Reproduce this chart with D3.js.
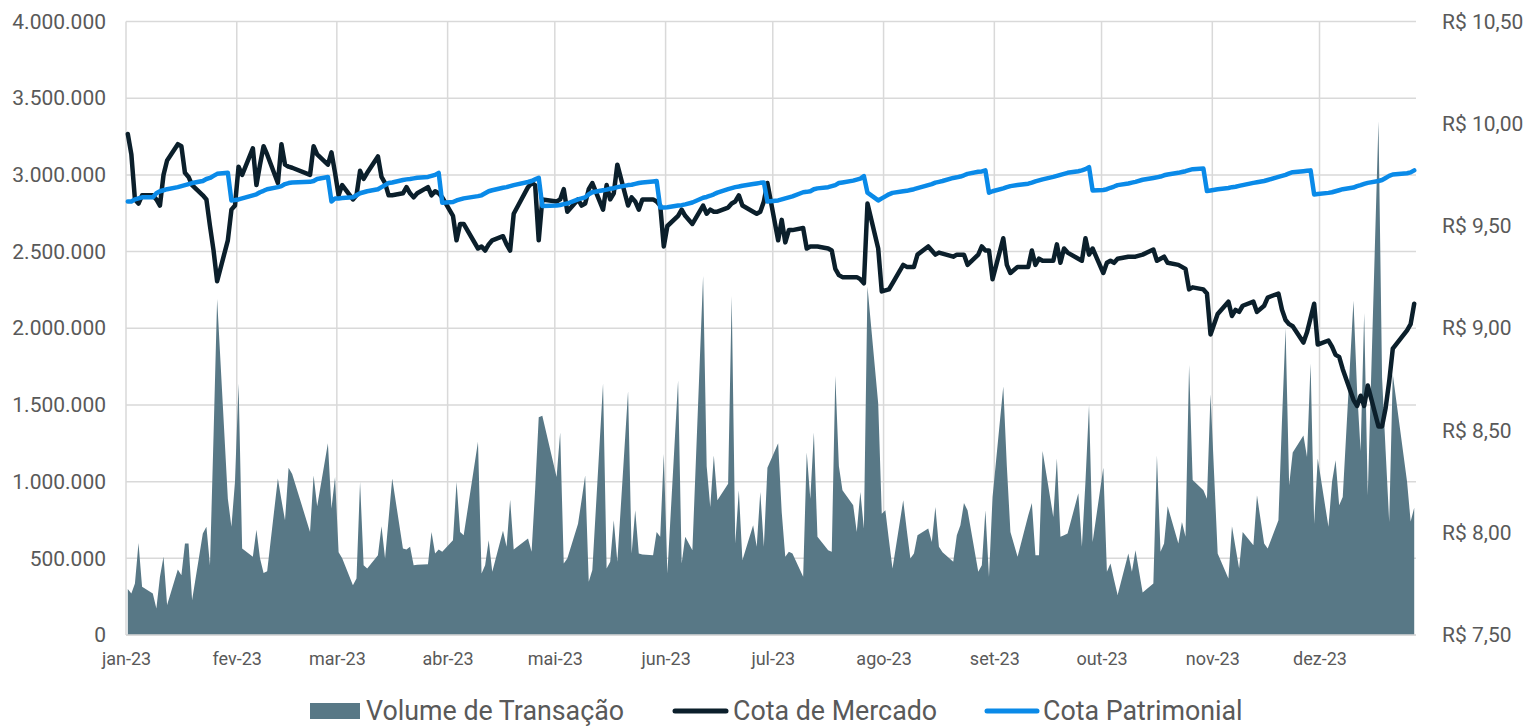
<!DOCTYPE html>
<html>
<head>
<meta charset="utf-8">
<script src="https://cdn.jsdelivr.net/npm/d3@7/dist/d3.min.js"></script>
<style>
  html, body { margin: 0; padding: 0; background: #ffffff; }
  svg { display: block; }
  text { font-family: Roboto, "Noto Sans", sans-serif; fill: #595959; }
</style>
</head>
<body>
<svg id="chart" width="1537" height="727"></svg>
<script>
// ---------- DATA ----------
const monthLabels = ["jan-23","fev-23","mar-23","abr-23","mai-23","jun-23","jul-23","ago-23","set-23","out-23","nov-23","dez-23"];
const leftTicks = [0, 500000, 1000000, 1500000, 2000000, 2500000, 3000000, 3500000, 4000000];
const rightTicks = [7.5, 8.0, 8.5, 9.0, 9.5, 10.0, 10.5];
const seriesNames = ["Volume de Transação", "Cota de Mercado", "Cota Patrimonial"];
// B3 holidays (non-trading weekdays) used to build the trading-day categories
const holidays = ["2023-02-20","2023-02-21","2023-04-07","2023-04-21","2023-05-01","2023-06-08",
                  "2023-09-07","2023-10-12","2023-11-02","2023-11-15","2023-12-25"];
const firstDay = "2023-01-02", lastDay = "2023-12-28";

const volume = [
  300000,270000,336000,600000,314000,270000,173000,380000,510000,195000,427000,390000,596000,596000,228000,661000,705000,455000,1300000,2190000,889000,705000,
  1000000,1640000,564000,510000,687000,500000,405000,416000,1020000,880000,748000,1090000,1050000,672000,1040000,839000,1250000,824000,
  1030000,540000,500000,325000,369000,997000,455000,434000,520000,709000,499000,760000,1020000,564000,557000,575000,455000,458000,462000,672000,531000,557000,542000,
  618000,997000,672000,650000,1260000,401000,455000,618000,412000,679000,575000,882000,557000,629000,542000,950000,1420000,1430000,
  1030000,1320000,466000,499000,726000,880000,1040000,347000,423000,1640000,434000,477000,748000,477000,1590000,531000,813000,531000,525000,520000,672000,640000,
  1180000,401000,1660000,466000,640000,553000,2340000,1100000,835000,1170000,878000,986000,2210000,596000,943000,488000,715000,575000,932000,575000,1090000,
  1250000,800000,510000,542000,531000,379000,1190000,889000,1320000,640000,553000,542000,1690000,1100000,943000,846000,672000,932000,694000,2270000,1510000,
  791000,813000,620000,434000,878000,683000,499000,531000,650000,694000,607000,835000,575000,540000,477000,650000,715000,861000,813000,412000,455000,813000,379000,
  900000,1620000,1100000,672000,510000,780000,861000,520000,520000,1200000,770000,1150000,640000,650000,661000,925000,575000,1000000,1500000,607000,
  1090000,412000,466000,360000,260000,531000,412000,553000,277000,336000,1170000,542000,596000,839000,596000,737000,640000,1760000,1010000,943000,889000,
  1570000,531000,369000,709000,570000,434000,672000,585000,911000,596000,564000,748000,1400000,2000000,976000,1190000,1300000,1160000,1770000,726000,
  1150000,705000,1000000,1140000,846000,900000,2180000,1600000,1200000,2100000,911000,3350000,1680000,1200000,737000,1700000,1000000,740000,830000
];

const cotaMercado = [
  9.95,9.85,9.63,9.61,9.65,9.65,9.63,9.60,9.75,9.82,9.90,9.89,9.76,9.74,9.70,9.65,9.63,9.50,9.38,9.23,9.43,9.58,
  9.60,9.79,9.75,9.88,9.70,9.80,9.89,9.85,9.71,9.90,9.80,9.79,9.785,9.75,9.89,9.85,9.80,9.86,
  9.76,9.65,9.70,9.63,9.65,9.77,9.73,9.76,9.84,9.74,9.71,9.65,9.65,9.66,9.69,9.66,9.64,9.66,9.69,9.65,9.67,9.66,9.64,
  9.55,9.43,9.51,9.51,9.39,9.40,9.38,9.41,9.43,9.45,9.41,9.38,9.56,9.69,9.71,9.70,9.43,9.63,
  9.62,9.63,9.68,9.57,9.63,9.60,9.61,9.68,9.71,9.58,9.70,9.63,9.66,9.80,9.60,9.64,9.62,9.58,9.63,9.63,9.62,9.60,
  9.40,9.50,9.55,9.58,9.55,9.51,9.60,9.56,9.58,9.57,9.57,9.59,9.61,9.62,9.65,9.60,9.57,9.56,9.57,9.62,9.71,
  9.43,9.53,9.42,9.48,9.48,9.49,9.39,9.40,9.40,9.40,9.39,9.38,9.29,9.26,9.25,9.25,9.25,9.24,9.22,9.61,9.39,
  9.18,9.185,9.19,9.22,9.31,9.30,9.30,9.30,9.36,9.40,9.38,9.36,9.37,9.365,9.35,9.36,9.36,9.36,9.31,9.36,9.40,9.38,9.38,
  9.24,9.44,9.31,9.27,9.30,9.30,9.38,9.31,9.34,9.33,9.33,9.41,9.32,9.39,9.37,9.34,9.33,9.44,9.36,9.39,
  9.27,9.32,9.33,9.32,9.34,9.35,9.35,9.35,9.36,9.385,9.33,9.34,9.35,9.32,9.31,9.30,9.29,9.19,9.20,9.19,9.17,
  8.97,9.07,9.13,9.06,9.09,9.08,9.11,9.13,9.08,9.11,9.15,9.17,9.09,9.04,9.02,9.01,8.93,8.98,9.05,9.12,
  8.92,8.94,8.91,8.87,8.86,8.80,8.65,8.62,8.67,8.62,8.72,8.52,8.52,8.61,8.74,8.90,8.99,9.02,9.12
];

const cotaPatrimonial = [
  9.62,9.62,9.63,9.635,9.64,9.64,9.66,9.67,9.675,9.68,9.69,9.695,9.70,9.705,9.71,9.72,9.73,9.735,9.745,9.755,9.76,9.625,
  9.627,9.63,9.635,9.65,9.655,9.665,9.672,9.68,9.69,9.695,9.705,9.71,9.713,9.716,9.72,9.73,9.74,9.62,
  9.635,9.635,9.637,9.64,9.65,9.66,9.665,9.67,9.68,9.69,9.70,9.71,9.713,9.725,9.728,9.73,9.733,9.736,9.74,9.745,9.75,9.76,9.614,
  9.617,9.625,9.63,9.635,9.646,9.65,9.66,9.67,9.675,9.687,9.69,9.695,9.70,9.715,9.72,9.728,9.736,9.598,
  9.60,9.603,9.607,9.61,9.63,9.635,9.64,9.655,9.665,9.675,9.678,9.682,9.685,9.69,9.70,9.702,9.706,9.71,9.713,9.718,9.72,9.59,
  9.59,9.592,9.60,9.602,9.606,9.615,9.638,9.642,9.648,9.655,9.663,9.68,9.685,9.69,9.693,9.697,9.705,9.708,9.711,9.713,9.62,
  9.625,9.63,9.635,9.64,9.645,9.665,9.667,9.67,9.68,9.684,9.69,9.695,9.70,9.71,9.713,9.722,9.727,9.732,9.744,9.663,9.625,
  9.635,9.645,9.655,9.662,9.67,9.672,9.676,9.68,9.685,9.70,9.705,9.712,9.716,9.72,9.735,9.738,9.742,9.748,9.755,9.765,9.767,9.772,9.663,
  9.67,9.684,9.69,9.695,9.70,9.707,9.712,9.718,9.723,9.728,9.74,9.745,9.75,9.755,9.76,9.768,9.772,9.778,9.788,9.674,
  9.676,9.68,9.687,9.693,9.70,9.708,9.712,9.716,9.726,9.735,9.738,9.742,9.748,9.752,9.76,9.764,9.768,9.773,9.778,9.781,9.671,
  9.674,9.68,9.686,9.69,9.692,9.696,9.70,9.711,9.714,9.72,9.725,9.74,9.745,9.75,9.757,9.763,9.768,9.77,9.772,9.654,
  9.656,9.662,9.665,9.67,9.675,9.68,9.688,9.695,9.70,9.706,9.711,9.72,9.725,9.735,9.745,9.752,9.758,9.762,9.772
];

// ---------- CATEGORIES (trading days) ----------
const parse = d3.utcParse("%Y-%m-%d");
const fmtDay = d3.utcFormat("%Y-%m-%d");
const hol = new Set(holidays);
const dates = d3.utcDay.range(parse(firstDay), d3.utcDay.offset(parse(lastDay), 1))
  .filter(d => d.getUTCDay() !== 0 && d.getUTCDay() !== 6 && !hol.has(fmtDay(d)));
const n = Math.min(dates.length, volume.length, cotaMercado.length, cotaPatrimonial.length);
const rows = d3.range(n).map(i => ({ date: dates[i], vol: volume[i], mkt: cotaMercado[i], nav: cotaPatrimonial[i] }));

// ---------- LAYOUT ----------
const svg = d3.select("#chart");
const L = 126, R = 1416, T = 21.5, B = 635;
const colors = { area: "#587886", mkt: "#0b1f2b", nav: "#0a8ae8", grid: "#d9d9d9" };

const x = d3.scaleUtc()
  .domain([parse(firstDay), d3.utcDay.offset(parse(lastDay), 1)])
  .range([L, R]);
const xc = d => x(d3.utcHour.offset(d, 12));   // centre of the day slot
const yL = d3.scaleLinear().domain([0, 4000000]).range([B, T]);
const yR = d3.scaleLinear().domain([7.5, 10.5]).range([B, T]);

const locale = d3.formatLocale({ decimal: ",", thousands: ".", grouping: [3], currency: ["R$ ", ""] });
const fmtL = locale.format(",.0f");
const fmtR = locale.format("$,.2f");

const monthTicks = d3.range(12).map(m => new Date(Date.UTC(2023, m, 2)));

// gridlines
const g = svg.append("g");
g.selectAll("line.h").data(leftTicks).join("line")
  .attr("x1", L).attr("x2", R)
  .attr("y1", d => yL(d)).attr("y2", d => yL(d))
  .attr("stroke", colors.grid).attr("stroke-width", 1.5);
g.selectAll("line.v").data(monthTicks).join("line")
  .attr("x1", d => x(d)).attr("x2", d => x(d))
  .attr("y1", T).attr("y2", B)
  .attr("stroke", colors.grid).attr("stroke-width", 1.5);

// area
const area = d3.area().x(d => xc(d.date)).y0(yL(0)).y1(d => yL(d.vol)).curve(d3.curveLinear);
svg.append("path").datum(rows).attr("d", area).attr("fill", colors.area);

// baseline
svg.append("line").attr("x1", L).attr("x2", R).attr("y1", B).attr("y2", B)
  .attr("stroke", colors.grid).attr("stroke-width", 1.5);

// lines
const lineMkt = d3.line().x(d => xc(d.date)).y(d => yR(d.mkt));
const lineNav = d3.line().x(d => xc(d.date)).y(d => yR(d.nav));
svg.append("path").datum(rows).attr("d", lineMkt).attr("fill", "none")
  .attr("stroke", colors.mkt).attr("stroke-width", 4.5)
  .attr("stroke-linejoin", "round").attr("stroke-linecap", "round");
svg.append("path").datum(rows).attr("d", lineNav).attr("fill", "none")
  .attr("stroke", colors.nav).attr("stroke-width", 4.5)
  .attr("stroke-linejoin", "round").attr("stroke-linecap", "round");

// axes (labels only, via d3 axes)
const axL = d3.axisLeft(yL).tickValues(leftTicks).tickFormat(fmtL).tickSize(0).tickPadding(20);
const axR = d3.axisRight(yR).tickValues(rightTicks).tickFormat(fmtR).tickSize(0).tickPadding(26);
const axB = d3.axisBottom(x).tickValues(monthTicks).tickFormat((d, i) => monthLabels[i]).tickSize(0).tickPadding(17);

function styleAxis(sel) {
  sel.select(".domain").remove();
  sel.selectAll("text").style("font-family", "Roboto, sans-serif").style("font-size", "21px").attr("fill", "#595959");
}
svg.append("g").attr("transform", `translate(${L},0)`).call(axL).call(styleAxis);
svg.append("g").attr("transform", `translate(${R},0)`).call(axR).call(styleAxis);
svg.append("g").attr("transform", `translate(0,${B})`).call(axB).call(styleAxis)
  .selectAll("text").style("font-size", "18px");

// legend
const lg = svg.append("g").attr("class", "legend");
const legY = 711;
lg.append("rect").attr("x", 310).attr("y", legY - 8).attr("width", 50).attr("height", 16).attr("fill", colors.area);
lg.append("text").attr("x", 366).attr("y", legY).attr("dy", "0.35em").text(seriesNames[0]);
lg.append("line").attr("x1", 675).attr("x2", 726).attr("y1", legY).attr("y2", legY)
  .attr("stroke", colors.mkt).attr("stroke-width", 5).attr("stroke-linecap", "round");
lg.append("text").attr("x", 733).attr("y", legY).attr("dy", "0.35em").text(seriesNames[1]);
lg.append("line").attr("x1", 987).attr("x2", 1037).attr("y1", legY).attr("y2", legY)
  .attr("stroke", colors.nav).attr("stroke-width", 5).attr("stroke-linecap", "round");
lg.append("text").attr("x", 1043).attr("y", legY).attr("dy", "0.35em").text(seriesNames[2]);
lg.selectAll("text").style("font-size", "26.8px");
</script>
</body>
</html>
